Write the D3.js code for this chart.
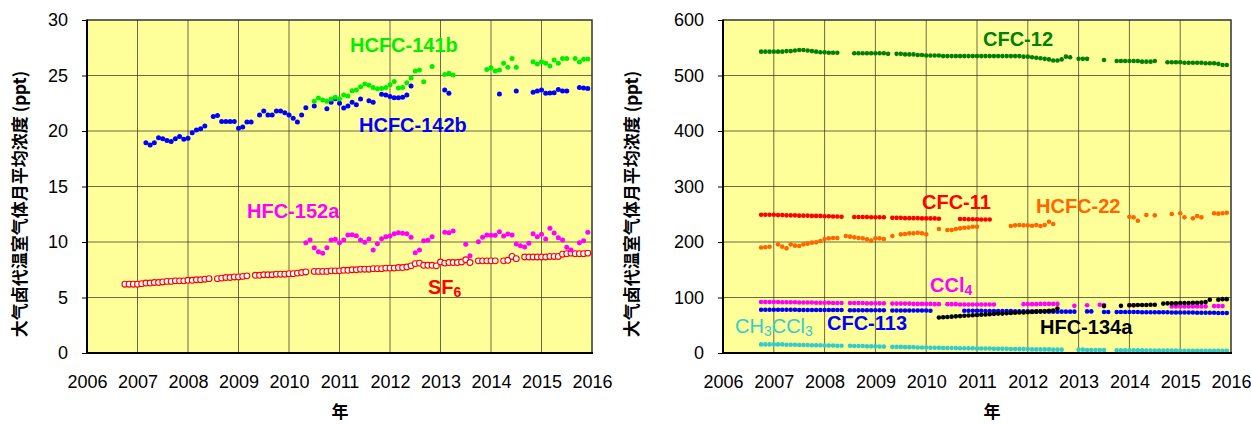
<!DOCTYPE html>
<meta charset='utf-8'>
<style>
    body { margin: 0; background: #fff; }
    text { font-family: 'Liberation Sans', Arial, sans-serif; }
    .tick text { font-size: 18px; fill: #000; }
    .tick line { stroke: #000; }
    .ytitle, .xtitle {
        font-family: 'Noto Sans CJK SC', sans-serif;
        font-weight: bold;
        font-size: 17px;
    }
    .label { font-weight: bold; font-size: 20px; }
</style>

<svg width="1251" height="424"></svg>
<script src="https://d3js.org/d3.v7.min.js"></script>

<script>

// ---- axes ----
var years = d3.range(2006, 2017);
var leftTicks = [0, 5, 10, 15, 20, 25, 30];
var rightTicks = [0, 100, 200, 300, 400, 500, 600];

// ---- left panel series (monthly, from start month) ----
var sf6Start = [2006, 10];
var sf6 = [
    6.2, 6.2, 6.2,
    6.2, 6.25, 6.3, 6.3, 6.35, 6.35, 6.4, 6.45, 6.45, 6.5, 6.5, 6.5,
    6.55, 6.55, 6.6, 6.6, 6.65, 6.7, null, 6.7, 6.75, 6.8, 6.8, 6.85,
    6.85, 6.9, 6.95, null, 7.0, 7.0, 7.05, 7.05, 7.05, 7.1, 7.1, 7.1,
    7.15, 7.15, 7.2, 7.25, 7.3, null, 7.35, 7.35, 7.35, 7.35, 7.4, 7.4,
    7.4, 7.45, 7.45, 7.5, 7.5, 7.55, 7.55, 7.55, 7.6, 7.6, 7.6, 7.65,
    7.65, 7.65, 7.7, 7.7, 7.75, 7.85, 8.05, 8.1, 7.9, 7.9, 7.9, 7.85,
    8.2, 8.1, 8.15, 8.15, 8.15, 8.2, 8.4, 8.15, null, 8.3, 8.3, 8.3,
    8.3, 8.3, null, 8.3, 8.35, 8.7, 8.5, null, 8.65, 8.65, 8.65, 8.65,
    8.65, 8.65, 8.7, 8.7, 8.7, 8.9, 8.95, 9.0, 8.95, 8.95, 8.95, 9.0
];

var hcfc142bStart = [2007, 3];
var hcfc142b = [
    18.95, 18.75, 18.95, 19.4, 19.3, 19.15, 19.05, 19.3, 19.5, 19.25,
    19.35, 19.85, 20.1, 20.2, 20.45, null, 21.3, 21.4, 20.85, 20.85, 20.85, 20.85,
    20.25, 20.35, 20.8, 20.8, null, 21.45, 21.8, 21.45, 21.45, 21.8, 21.8, 21.65,
    21.45, 21.15, 20.8, 21.45, 22.1, null, 22.25, null, null, 22.0, 22.6, 22.9,
    22.5, 22.07, 22.25, 22.6, 22.37, 22.88, null, 22.73, 22.58, null, 23.3, 23.24,
    23.1, 23.0, 23.0, 23.04, 23.24, 24.05, null, null, null, null, null, null,
    null, 23.7, 23.4, null, null, null, null, null, null, null, null, null,
    null, null, 23.33, null, null, null, 23.6, null, null, null, 23.5, 23.6,
    23.7, 23.4, 23.43, 23.45, 23.75, 23.6, 23.6, null, null, 23.93, 23.88, 23.82
];

var hcfc141bStart = [2010, 7];
var hcfc141b = [
    22.67, 22.97, 22.79, 22.67, 22.88, 23.03,
    22.91, 23.24, 23.15, 23.63, 23.69, 23.99, 24.23, 24.12, 23.93, 23.81, 23.84, 23.93,
    24.17, 24.47, 23.87, 23.93, 24.35, 24.77, 25.41, 25.5, 24.44, null, 25.8, null,
    null, 25.08, 25.2, 25.05, null, null, null, null, null, null, null, 25.55,
    25.7, 25.4, 25.5, 26.1, 25.74, 26.54, 25.74, null, null, null, 26.25, 26.04,
    26.25, 26.1, 25.86, 26.4, 26.1, 26.54, 26.54, null, 26.54, 26.22, 26.46, 26.49
];

var hfc152aStart = [2010, 5];
var hfc152a = [
    9.94, 10.18, 9.49, 9.13, 8.98, 9.49, 10.18, 10.24,
    9.94, 10.18, 10.63, 10.66, 10.57, 10.18, 9.97, 10.27, 9.28, 9.85, 10.3, 10.48,
    10.54, 10.75, 10.84, 10.78, 10.75, 10.42, 9.04, 9.28, 10.12, 10.15, 10.48, null,
    null, 10.87, 10.84, 10.99, null, null, 9.79, 8.77, null, 10.03, 10.42, 10.63,
    10.6, 10.6, 10.93, 10.54, 10.72, 10.63, 9.82, 9.67, 9.55, 9.88, 10.75, 10.48,
    10.69, 10.27, 11.23, 10.81, 10.39, 10.18, 9.52, 9.28, null, 9.94, 10.12, 10.87
];

// ---- right panel series (monthly from Oct 2006) ----
var rightStart = [2006, 10];
var cfc12 = [
    543, 543, 543,
    543, 543, 543, 544, 544, 545, 546, 546, 545, 544, 543, 542,
    542, 541, 541, 541, null, null, null, 540, 540, 540, 540, 540,
    540, 540, 540, 539, null, 539, 539, 538, 538, 538, 537, 537,
    536, 536, 536, 536, 535, 535, 535, 535, 535, 535, 535, 535,
    535, 535, 535, 535, 535, 535, 535, 535, 535, 535, 535, 534,
    534, 533, 532, 531, 530, 529, 527, 527, 529, 534, 533, null,
    530, 530, 530, null, null, null, 528, null, null, 526, 526, 526,
    526, 526, 526, 525, 525, 525, 526, null, null, 524, 524, 524,
    524, 523, 523, 523, 523, 523, 522, 522, 522, 521, 519, 519
];
var cfc11 = [
    249, 249, 249,
    249, 248.5, 248.5, 248, 248, 248, 247.5, 247.5, 247.5, 247, 247, 247,
    246.5, 246.5, 246, 246, 245.5, null, null, 245, 245, 245, 245, 244.5,
    244.5, 244.5, 244.5, null, 243.5, 243.5, 243.5, 243, 243, 243, 243, 242.5,
    242.5, 242.5, 242.5, 242, null, null, null, null, 241.5, 241.5, 241, 241,
    241, 240.5, 240.5, 240.5
];
var hcfc22 = [
    190, 190.5, 191.5,
    null, 195.8, 191.6, 188.6, 195.8, 193.4, 192.8, 195.8, 197, 198.8, 199.4, 201.8,
    205.4, 206.6, 207.2, 207.2, null, 210.8, 209.6, 208.4, 207.2, 206.6, 204.8, 202.4,
    206.6, 206.6, 205.4, null, 210.8, null, 213.8, 214.4, 215.6, 215.6, 216.8, 215.6,
    213.8, null, null, 223.4, null, 221.6, 221.6, 223.4, 224.6, 225.8, 226.2, 227.6,
    227.6, null, null, null, null, null, null, null, 228.8, 230, 230.6, 230,
    230, 229.4, 230.6, 228.8, 230.6, 236.6, 232.4, null, null, null, null, null,
    null, null, null, null, null, null, null, null, null, null, null, null,
    245.6, 244.4, 238.4, null, 248.6, null, 248, null, null, null, 250.5, null,
    251.7, 244.4, null, 242.6, 246.8, 244.4, null, null, 251.7, 251.1, 251.7, 252.8
];
var ccl4 = [
    92, 92, 92,
    92, 92, 91.5, 91.5, 91.5, 91.5, 91, 91, 91, 91, 90.5, 90.5,
    90.5, 90.5, 90, 90, 90, null, 90, 90, 90, 90, 89.5, 89.5,
    89.5, 89.5, 89.5, null, 89, 89, 89, 89, 89, 88.5, 88.5, 88.5,
    88.5, 88.5, 88, 88, null, 88, 88, 88, 87.5, 87.5, 87.5, 87.5,
    87.5, 87.5, 87.5, 87.5, 87.5, null, null, null, null, null, null, 88,
    88, 88, 88, 88.5, 88.5, 88.5, 88.5, 88.5, null, null, null, 85,
    null, null, 86, null, null, 87, 86.5, null, null, null, null, null,
    86, 86, null, null, null, null, null, null, null, null, 84, 84,
    84, 84, 84, 84, 84, 84, 84, null, 84.5, 84.5, 84.5, null
];
var cfc113 = [
    78, 78, 78,
    78, 78, 78, 78, 78, 78, 77.5, 77.5, 77.5, 77.5, 77.5, 77.5,
    77.5, 77.5, 77.5, 77.5, 77.5, null, 77, 77, 77, 77, 77, 77,
    77, 77, 77, null, 76.5, 76.5, 76.5, 76.5, 76.5, 76.5, 76.5, 76.5,
    76.5, 76, null, null, null, null, null, null, null, 76, 76, 76,
    76, 76, 75.5, 75.5, 75.5, 75.5, 75.5, 75.5, 75.5, 75, 75, 75,
    75, 75, 75, 75, 74.5, 74.5, 74.5, 74.5, 74.5, 74.5, 74.5, 74.5,
    null, null, 75, 75, null, null, 74, 74, null, 74, 74, 74,
    74, 74, 74, 73.5, 73.5, 73.5, 73.5, 73.5, 73.5, 73.5, 73, 73,
    73, 73, 73, 73, 72.5, 72.5, 72.5, 72.5, 72.5, 72, 72, 72
];
var hfc134a = [
    null, null, null,
    null, null, null, null, null, null, null, null, null, null, null, null,
    null, null, null, null, null, null, null, null, null, null, null, null,
    null, null, null, null, null, null, null, null, null, null, null, null,
    null, null, null, 64, 64.5, 65, 65.5, 66, 66.5, 67, 67.5, 68,
    68.5, 69, 69.5, 70, 70.5, 71, 71, 71.5, 72, 72.5, 73, 73,
    73.5, 74, 74.5, 75, 75.5, 76, 76.5, 80, null, null, null, null,
    null, null, null, null, null, null, 84.5, null, null, null, 85, null,
    86, 86, 86.5, 86.5, 86.5, 87, 87, null, 89, 89.5, 89.5, 89.5,
    90, 90, 90, 90.5, 90.5, 91, 92, 96, null, 96, 97, 97
];
var ch3ccl3 = [
    15.5, 15.5, 15.5,
    15.5, 15.5, 15.5, 15, 15, 15, 14.5, 14.5, 14.5, 14, 14, 14,
    13.5, 13.5, 13.5, 13, 13, null, 13, 12.5, 12.5, 12.5, 12, 12,
    12, 11.5, 11.5, null, 11, 11, 11, 10.5, 10.5, 10.5, 10, 10,
    10, 9.5, 9.5, 9.5, 9, 9, 9, 9, 8.5, 8.5, 8.5, 8.5,
    8, 8, 8, 8, 7.5, 7.5, 7.5, 7.5, 7, 7, 7, 7,
    7, 6.5, 6.5, 6.5, 6.5, 6.5, 6, 6, 6, null, null, null,
    6, 6, 5.5, 5.5, 5.5, 5.5, 5.5, null, null, 5, 5, 5,
    5, 5, 5, 5, 4.5, 4.5, 4.5, 4.5, 4.5, 4.5, 4.5, 4.5,
    4, 4, 4, 4, 4, 4, 4, 4, 4, 4, 4, 4
];

var yTitle = '大气卤代温室气体月平均浓度 (ppt)';
var xTitle = '年';

// ---- drawing ----
var svg = d3.select('svg');

function toPoints(start, values) {
    var pts = [];
    values.forEach(function(v, i) {
        if (v != null) pts.push({ t: start[0] + (start[1] - 1 + i) / 12, v: v });
    });
    return pts;
}

function panel(opt) {
    var x = d3.scaleLinear().domain([2006, 2016]).range([opt.x0, opt.x1]);
    var y = d3.scaleLinear().domain([0, opt.ymax]).range([opt.y1, opt.y0]);
    var g = svg.append('g');

    g.append('rect')
        .attr('x', opt.x0).attr('y', opt.y0)
        .attr('width', opt.x1 - opt.x0).attr('height', opt.y1 - opt.y0)
        .attr('fill', '#ffff99');

    g.append('g').selectAll('line')
        .data(years.slice(1, -1))
        .enter().append('line')
        .attr('x1', x).attr('x2', x)
        .attr('y1', opt.y0).attr('y2', opt.y1)
        .attr('stroke', '#3a3a2a').attr('stroke-opacity', 0.75).attr('stroke-width', 1);

    g.append('g').selectAll('line')
        .data(opt.yticks.slice(1, -1))
        .enter().append('line')
        .attr('x1', opt.x0).attr('x2', opt.x1)
        .attr('y1', y).attr('y2', y)
        .attr('stroke', '#3a3a2a').attr('stroke-opacity', 0.75).attr('stroke-width', 1);

    // top / right frame
    g.append('path')
        .attr('d', 'M' + opt.x0 + ',' + opt.y0 + 'H' + opt.x1 + 'V' + opt.y1)
        .attr('fill', 'none').attr('stroke', '#333').attr('stroke-width', 1.5);

    opt.series.forEach(function(s) {
        var pts = toPoints(s.start, s.values);
        g.append('g').selectAll('circle')
            .data(pts)
            .enter().append('circle')
            .attr('cx', function(d) { return x(d.t); })
            .attr('cy', function(d) { return y(d.v); })
            .attr('r', s.open ? 2.9 : opt.r)
            .attr('fill', s.open ? '#fff' : s.color)
            .attr('stroke', s.open ? s.color : 'none')
            .attr('stroke-width', 1.1);
    });

    var ya = g.append('g')
        .attr('transform', 'translate(' + opt.x0 + ',0)')
        .call(d3.axisLeft(y).tickValues(opt.yticks).tickSize(5).tickSizeOuter(0).tickPadding(14));
    ya.select('.domain').remove();

    var xa = g.append('g')
        .attr('transform', 'translate(0,' + opt.y1 + ')')
        .call(d3.axisBottom(x).tickValues(years).tickFormat(d3.format('d')).tickSize(0).tickPadding(22));
    xa.select('.domain').remove();

    g.append('path')
        .attr('d', 'M' + opt.x0 + ',' + (opt.y0 - 0.5) + 'V' + opt.y1 + 'H' + (opt.x1 + 1))
        .attr('fill', 'none').attr('stroke', '#000').attr('stroke-width', 2);

    g.append('text')
        .attr('class', 'ytitle')
        .attr('transform', 'translate(' + opt.titleX + ',204) rotate(-90)')
        .attr('text-anchor', 'middle')
        .attr('dy', '0.35em')
        .text(yTitle);

    g.append('text')
        .attr('class', 'xtitle')
        .attr('x', opt.xTitleX).attr('y', 418)
        .attr('text-anchor', 'middle')
        .text(xTitle);

    opt.labels.forEach(function(l) {
        var t = g.append('text')
            .attr('class', 'label')
            .attr('x', l.x).attr('y', l.y)
            .attr('fill', l.color)
            .style('font-weight', l.normal ? 'normal' : 'bold');
        l.parts.forEach(function(p) {
            var sub = Array.isArray(p);
            var ts = t.append('tspan').text(sub ? p[0] : p);
            if (sub) ts.attr('font-size', 14).attr('dy', 3);
            else if (t.selectAll('tspan').size() > 1) ts.attr('dy', -3);
        });
    });
}

panel({
    x0: 87, x1: 592, y0: 20, y1: 353, ymax: 30, yticks: leftTicks, r: 2.5,
    titleX: 20, xTitleX: 340,
    series: [
        { start: sf6Start, values: sf6, color: '#ff0000', open: true },
        { start: hfc152aStart, values: hfc152a, color: '#ff00ff' },
        { start: hcfc142bStart, values: hcfc142b, color: '#0000ff' },
        { start: hcfc141bStart, values: hcfc141b, color: '#00ee00' }
    ],
    labels: [
        { parts: ['HCFC-141b'], x: 350, y: 52, color: '#00ee00' },
        { parts: ['HCFC-142b'], x: 359, y: 132, color: '#0000ff' },
        { parts: ['HFC-152a'], x: 247, y: 218, color: '#ff00ff' },
        { parts: ['SF', ['6']], x: 428, y: 294, color: '#ff0000' }
    ]
});

panel({
    x0: 723, x1: 1231, y0: 20, y1: 353, ymax: 600, yticks: rightTicks, r: 2.3,
    titleX: 632, xTitleX: 992,
    series: [
        { start: rightStart, values: ch3ccl3, color: '#33cccc' },
        { start: rightStart, values: cfc113, color: '#0000ff' },
        { start: rightStart, values: ccl4, color: '#ff00ff' },
        { start: rightStart, values: hfc134a, color: '#000000' },
        { start: rightStart, values: hcfc22, color: '#ff6600' },
        { start: rightStart, values: cfc11, color: '#ff0000' },
        { start: rightStart, values: cfc12, color: '#008000' }
    ],
    labels: [
        { parts: ['CFC-12'], x: 983, y: 46, color: '#008000' },
        { parts: ['CFC-11'], x: 922, y: 209, color: '#ff0000' },
        { parts: ['HCFC-22'], x: 1036, y: 213, color: '#ff6600' },
        { parts: ['CCl', ['4']], x: 930, y: 292, color: '#ff00ff' },
        { parts: ['CFC-113'], x: 827, y: 330, color: '#0000ff' },
        { parts: ['CH', ['3'], 'CCl', ['3']], x: 735, y: 333, color: '#33cccc', normal: true },
        { parts: ['HFC-134a'], x: 1040, y: 334, color: '#000000' }
    ]
});

</script>
